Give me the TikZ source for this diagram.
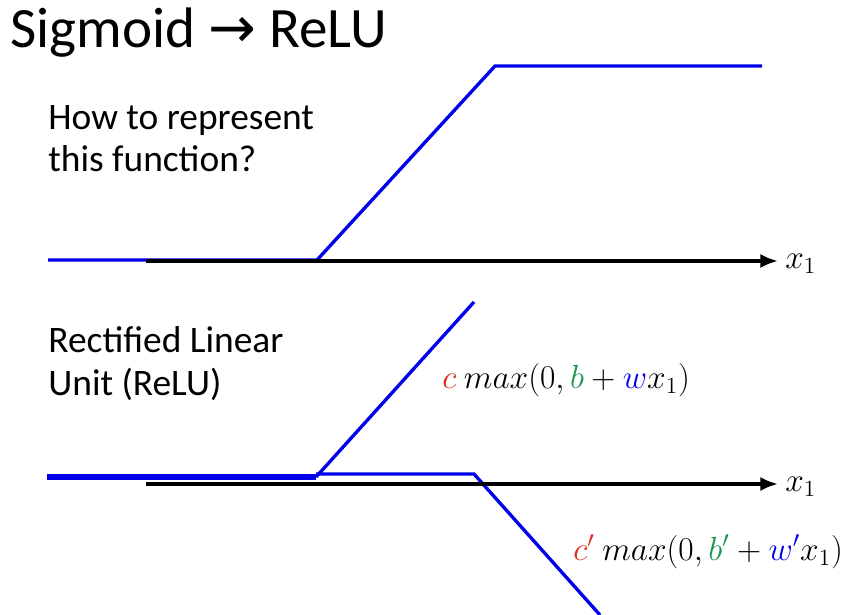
\documentclass[tikz,border=0pt]{standalone}
\usepackage[no-math]{fontspec}
\setmainfont{Carlito}
\newfontfamily\arrowfont{DejaVu Sans}
\usepackage{tikz}
\usetikzlibrary{arrows.meta,positioning}
\definecolor{blue1}{RGB}{0,0,235}
\definecolor{red1}{RGB}{225,45,25}
\definecolor{green1}{RGB}{25,150,80}
\newcommand{\fml}[1]{\scalebox{1.1}{$#1$}}

\begin{document}
\begin{tikzpicture}[x=0.02cm,y=-0.02cm,
    curve/.style={blue1, line width=1.9pt},
    axis/.style={black, line width=1.9pt, -{Latex[length=10pt,width=8pt]}},
    body/.style={anchor=base west, align=left, inner sep=0pt, font=\fontsize{21.3}{24}\selectfont},
    formula/.style={anchor=base west, inner sep=0pt, font=\fontsize{17.28}{21}\selectfont}]
    \useasboundingbox (0,0) rectangle (862,615);
    % Title
    \node[anchor=base west, inner sep=0pt, font=\fontsize{32.5}{36}\selectfont] (title) at (10,48) {Sigmoid {\arrowfont →} ReLU};
    % Top: hard sigmoid
    \node[body] (question) at (48,172) {How to represent\\this function?};
    \coordinate (hs0) at (48,260);
    \coordinate (hs1) at (317,260);
    \coordinate (hs2) at (495,66);
    \coordinate (hs3) at (762,66);
    \draw[curve] (hs0) -- (hs1) -- (hs2) -- (hs3);
    \coordinate (xa0) at (146,261);
    \coordinate (xa1) at (778,261);
    \draw[axis] (xa0) -- (xa1);
    \node[formula] (xla) at (785,268) {\fml{x_1}};
    % Bottom: two ReLUs
    \node[body] (relu) at (48,395) {Rectified Linear\\Unit (ReLU)};
    \coordinate (ra0) at (47,477);
    \coordinate (ra1) at (316,477);
    \coordinate (ra2) at (474,302);
    \draw[blue1, line width=3.4pt] (ra0) -- (ra1);
    \draw[curve] (ra1) -- (ra2);
    \coordinate (rb0) at (316,474);
    \coordinate (rb1) at (474,474);
    \coordinate (rb2) at (600,615);
    \draw[curve] (rb0) -- (rb1) -- (rb2);
    \coordinate (xb0) at (146,484);
    \coordinate (xb1) at (778,484);
    \draw[axis] (xb0) -- (xb1);
    \node[formula] (xlb) at (785,491) {\fml{x_1}};
    % Formulas
    \node[formula] (fa) at (442,388) {\fml{\textcolor{red1}{c}\ max(0,\textcolor{green1}{b}+\textcolor{blue1}{w}x_1)}};
    \node[formula] (fb) at (573,560) {\fml{\textcolor{red1}{c'}\ max(0,\textcolor{green1}{b'}+\textcolor{blue1}{w'}x_1)}};
\end{tikzpicture}
\end{document}
